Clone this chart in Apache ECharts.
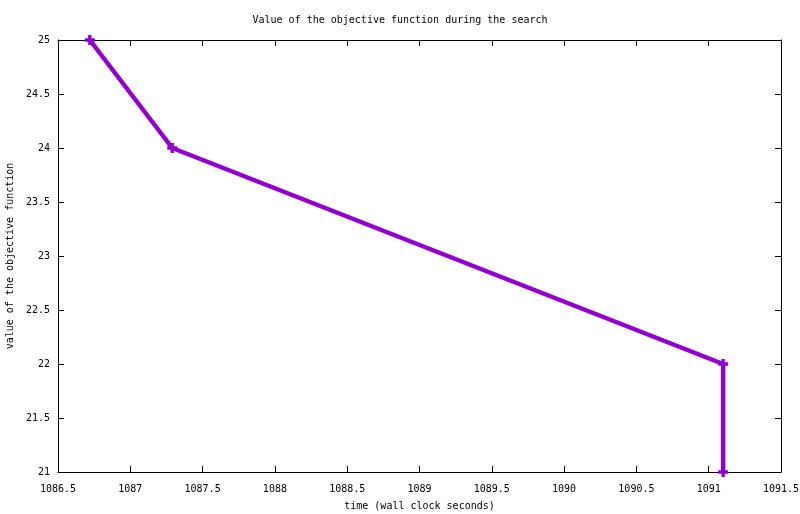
<!DOCTYPE html>
<html>
<head>
<meta charset="utf-8">
<script src="https://cdn.jsdelivr.net/npm/echarts@6/dist/echarts.min.js"></script>
<style>
  html, body { margin: 0; padding: 0; background: #fff; }
  #main { width: 800px; height: 514px; }
</style>
</head>
<body>
<div id="main"></div>
<script>
var timeSeconds = [1086.72, 1087.29, 1091.1, 1091.1];
var objectiveValues = [25, 24, 22, 21];
var xTicks = [1086.5, 1091.5, 0.5];
var yTicks = [21, 25, 0.5];

var font = '"DejaVu Sans Mono", monospace';
var plusPath = 'path://M3,0H6V3H9V6H6V9H3V6H0V3H3Z';

var points = timeSeconds.map(function (t, i) { return [t, objectiveValues[i]]; });

var chart = echarts.init(document.getElementById('main'));

function plain(v) { return String(v); }

function axisBase(extra) {
  var a = {
    type: 'value',
    axisLine: { show: true, lineStyle: { color: '#000', width: 1 } },
    axisTick: { show: true, inside: true, length: 6, lineStyle: { color: '#000' } },
    splitLine: { show: false },
    axisLabel: { color: '#000', fontFamily: font, fontSize: 10, formatter: plain }
  };
  for (var k in extra) a[k] = extra[k];
  return a;
}

chart.setOption({
  animation: false,
  backgroundColor: '#fff',
  title: {
    text: 'Value of the objective function during the search',
    left: 'center',
    top: 10,
    textStyle: { fontFamily: font, fontSize: 10, fontWeight: 'normal', color: '#000' }
  },
  grid: { left: 58, right: 19, top: 40, bottom: 42, containLabel: false, outerBoundsMode: 'none' },
  xAxis: [
    axisBase({
      min: xTicks[0], max: xTicks[1], interval: xTicks[2],
      name: 'time (wall clock seconds)',
      nameLocation: 'middle', nameGap: 29,
      nameTextStyle: { fontFamily: font, fontSize: 10, color: '#000' },
      axisLabel: { color: '#000', fontFamily: font, fontSize: 10, margin: 12, formatter: plain }
    }),
    axisBase({
      position: 'top',
      min: xTicks[0], max: xTicks[1], interval: xTicks[2],
      axisLabel: { show: false }
    })
  ],
  yAxis: [
    axisBase({
      min: yTicks[0], max: yTicks[1], interval: yTicks[2],
      name: 'value of the objective function',
      nameLocation: 'middle', nameGap: 42, nameRotate: 90,
      nameTextStyle: { fontFamily: font, fontSize: 10, color: '#000' },
      axisLabel: { color: '#000', fontFamily: font, fontSize: 10, margin: 8, formatter: plain }
    }),
    axisBase({
      position: 'right',
      min: yTicks[0], max: yTicks[1], interval: yTicks[2],
      axisLabel: { show: false }
    })
  ],
  series: [{
    type: 'line',
    data: points,
    symbol: plusPath,
    symbolSize: 10,
    showAllSymbol: true,
    lineStyle: { color: '#9400d3', width: 4.5 },
    itemStyle: { color: '#9400d3' },
    clip: false
  }]
});
</script>
</body>
</html>
